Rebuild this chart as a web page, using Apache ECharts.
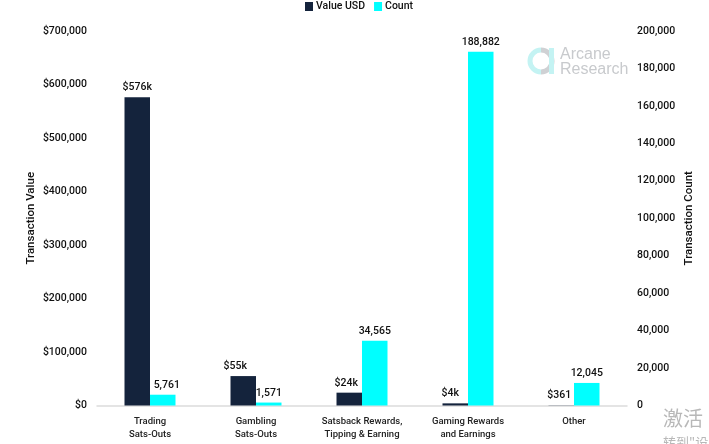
<!DOCTYPE html>
<html>
<head>
<meta charset="utf-8">
<style>html,body{margin:0;padding:0;background:#fff}#chart{width:709px;height:444px}</style>
<script src="https://cdn.jsdelivr.net/npm/echarts@6/dist/echarts.min.js"></script>
</head>
<body>
<div id="chart"></div>
<script>
var categories = ['Trading\nSats-Outs', 'Gambling\nSats-Outs', 'Satsback Rewards,\nTipping & Earning', 'Gaming Rewards\nand Earnings', 'Other'];
var valueUsd = [576000, 55000, 24000, 4000, 361];
var valueLabels = ['$576k', '$55k', '$24k', '$4k', '$361'];
var countValues = [5761, 1571, 34565, 188882, 12045];

var font = 'Roboto, sans-serif';
var navy = '#14233c';
var cyan = '#00ffff';
var ink = '#111';

// the labels were nudged by hand in the original
var valueNudge = [0, -8, -3, -5, -2];
var countNudge = [4, 0, 0, 0, 0];

function nudged(values, nudge){
	return values.map(function(v, i){
		return {value: v, label: {offset: [nudge[i], 0]}};
	});
}

var myChart = echarts.init(document.getElementById('chart'), null, {renderer: 'canvas'});
var option = {
	animation: false,
	textStyle: {fontFamily: font},
	legend: {
		top: 1,
		left: 305,
		padding: 0,
		itemWidth: 8,
		itemHeight: 9,
		itemGap: 9,
		icon: 'rect',
		textStyle: {fontFamily: font, fontSize: 10.5, color: ink, fontWeight: 500, padding: [1, 0, 0, -2]},
		data: ['Value USD', 'Count']
	},
	graphic: [
		{type: 'arc', shape: {cx: 541, cy: 61, r: 11, startAngle: Math.PI / 2, endAngle: Math.PI * 1.5},
			style: {stroke: '#c4f3f3', lineWidth: 5, fill: 'none'}},
		{type: 'arc', shape: {cx: 541, cy: 61, r: 11, startAngle: -Math.PI / 2, endAngle: Math.PI / 2},
			style: {stroke: '#cfd1d4', lineWidth: 5, fill: 'none'}},
		{type: 'rect', shape: {x: 549, y: 48, width: 5, height: 26}, style: {fill: '#c4f3f3'}},
		{type: 'text', left: 560, top: 47, style: {text: 'Arcane\nResearch', fill: '#c8cacd', fontFamily: '"Liberation Sans", sans-serif', fontSize: 16, lineHeight: 14.5, fontWeight: 'normal'}},
		{type: 'text', left: 663, top: 408, style: {text: '激活', fill: '#b8b8b8', fontFamily: '"Noto Sans CJK SC", sans-serif', fontSize: 20}},
		{type: 'text', left: 663, top: 436, style: {text: '转到"设置"', fill: '#b8b8b8', fontFamily: '"Noto Sans CJK SC", sans-serif', fontSize: 13}}
	],
	grid: {left: 97, right: 82, top: 31, bottom: 38.5},
	xAxis: {
		type: 'category',
		data: categories,
		axisTick: {show: false},
		axisLine: {lineStyle: {color: '#dcdcdc', width: 1.5}},
		axisLabel: {fontFamily: font, fontSize: 9.5, color: '#222', lineHeight: 13.5, margin: 9, interval: 0, fontWeight: 500}
	},
	yAxis: [
		{
			type: 'value', min: 0, max: 700000, interval: 100000,
			name: 'Transaction Value', nameLocation: 'middle', nameGap: 60, nameMoveOverlap: false,
			nameTextStyle: {fontFamily: font, fontSize: 11.5, color: ink, fontWeight: 500},
			axisLine: {show: false}, axisTick: {show: false}, splitLine: {show: false},
			axisLabel: {fontFamily: font, fontSize: 10.5, color: ink, fontWeight: 500, margin: 10, padding: [4, 0, 0, 0],
				formatter: function(v){ return '$' + v.toLocaleString('en-US'); }}
		},
		{
			type: 'value', min: 0, max: 200000, interval: 20000,
			name: 'Transaction Count', nameLocation: 'middle', nameGap: 56, nameMoveOverlap: false, nameRotate: 90,
			nameTextStyle: {fontFamily: font, fontSize: 11.5, color: ink, fontWeight: 500},
			axisLine: {show: false}, axisTick: {show: false}, splitLine: {show: false},
			axisLabel: {fontFamily: font, fontSize: 10.5, color: ink, fontWeight: 500, margin: 10, padding: [4, 0, 0, 0],
				formatter: function(v){ return v.toLocaleString('en-US'); }}
		}
	],
	series: [
		{
			name: 'Value USD', type: 'bar', yAxisIndex: 0, data: nudged(valueUsd, valueNudge),
			barWidth: 25.5, barGap: '0%',
			itemStyle: {color: navy},
			label: {show: true, position: 'top', distance: 4, fontFamily: font, fontSize: 10.5, fontWeight: 500, color: ink,
				formatter: function(p){ return valueLabels[p.dataIndex]; }}
		},
		{
			name: 'Count', type: 'bar', yAxisIndex: 1, data: nudged(countValues, countNudge),
			barWidth: 25.5,
			itemStyle: {color: cyan},
			label: {show: true, position: 'top', distance: 4, fontFamily: font, fontSize: 10.5, fontWeight: 500, color: ink,
				formatter: function(p){ return p.value.toLocaleString('en-US'); }}
		}
	]
};
myChart.setOption(option);
</script>
</body>
</html>
